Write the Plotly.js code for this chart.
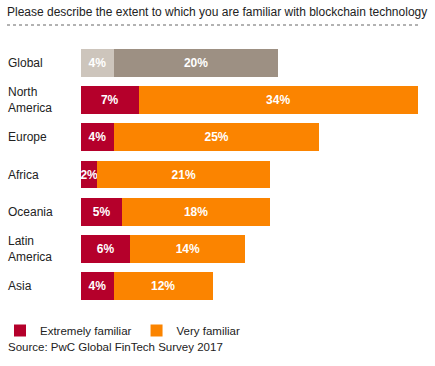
<!DOCTYPE html>
<html>
<head>
<meta charset="utf-8">
<script src="https://cdn.plot.ly/plotly-3.0.1.min.js"></script>
<style>html,body{margin:0;padding:0;background:#fff;}#chart{width:435px;height:366px;}</style>
</head>
<body>
<div id="chart"></div>
<script>
const categories = ['Global','North America','Europe','Africa','Oceania','Latin America','Asia'];
const categoryLabels = ['Global','North<br>America','Europe','Africa','Oceania','Latin<br>America','Asia'];
const extremely = [4,7,4,2,5,6,4];
const very = [20,34,25,21,18,14,12];
const seriesNames = ['Extremely familiar','Very familiar'];

const FONT = 'Liberation Sans, Arial, Helvetica, sans-serif';
const RED = '#b5002b', ORANGE = '#fb8400', LGRAY = '#cdc5bc', DGRAY = '#9d9083';

const regions = categories.slice(1);
const barCommon = {
  type:'bar', orientation:'h', textposition:'inside', insidetextanchor:'middle',
  textangle:0, constraintext:'none', cliponaxis:false,
  textfont:{family:FONT, size:12, color:'#ffffff', weight:'bold'},
  hoverinfo:'none'
};
const traces = [
  Object.assign({}, barCommon, {y:[categories[0]], x:[extremely[0]], text:[extremely[0]+'%'],
    marker:{color:LGRAY}, showlegend:false, name:'g1'}),
  Object.assign({}, barCommon, {y:[categories[0]], x:[very[0]], text:[very[0]+'%'],
    marker:{color:DGRAY}, showlegend:false, name:'g2'}),
  Object.assign({}, barCommon, {y:regions, x:extremely.slice(1), text:extremely.slice(1).map(v=>v+'%'),
    marker:{color:RED}, name:seriesNames[0]}),
  Object.assign({}, barCommon, {y:regions, x:very.slice(1), text:very.slice(1).map(v=>v+'%'),
    marker:{color:ORANGE}, name:seriesNames[1]})
];

const ml = 81, mr = 17, mt = 44, mb = 61;
const pw = 435 - ml - mr, ph = 366 - mt - mb;
const px2x = p => (p - ml) / pw;
const py2y = p => (366 - mb - p) / ph;

const annotations = categories.map((c,i)=>({
  xref:'paper', yref:'y', x:px2x(6), y:c, xanchor:'left', yanchor:'middle', align:'left',
  text:categoryLabels[i], showarrow:false, font:{family:FONT, size:12, color:'#222'}
}));
annotations.push({
  xref:'paper', yref:'paper', x:px2x(6), y:py2y(347), xanchor:'left', yanchor:'middle',
  text:'Source: PwC Global FinTech Survey 2017', showarrow:false,
  font:{family:FONT, size:11.5, color:'#222'}
});

const layout = {
  width:435, height:366,
  margin:{l:ml, r:mr, t:mt, b:mb, pad:0, autoexpand:false},
  paper_bgcolor:'#fff', plot_bgcolor:'#fff',
  barmode:'stack', bargap:0.25,
  title:{text:'Please describe the extent to which you are familiar with blockchain technology',
    xref:'container', yref:'container', x:7/435, xanchor:'left', y:1-12/366, yanchor:'middle',
    font:{family:FONT, size:12, color:'#222'}},
  xaxis:{range:[0,41], visible:false, fixedrange:true},
  yaxis:{type:'category', categoryorder:'array', categoryarray:categories, autorange:'reversed',
    showticklabels:false, showgrid:false, zeroline:false, showline:false, ticks:''},
  showlegend:true,
  legend:{orientation:'h', traceorder:'normal', xref:'container', yref:'container',
    x:-21/435, xanchor:'left', y:1-316/366, yanchor:'top',
    font:{family:FONT, size:11.5, color:'#222'}, itemwidth:30, tracegroupgap:0,
    bgcolor:'rgba(0,0,0,0)'},
  shapes:[{type:'line', xref:'paper', yref:'paper', x0:px2x(7), x1:px2x(418), y0:py2y(25), y1:py2y(25),
    line:{color:'#666', width:1, dash:'dot'}}],
  annotations:annotations
};
Plotly.newPlot('chart', traces, layout, {displayModeBar:false, staticPlot:true});
</script>
</body>
</html>
